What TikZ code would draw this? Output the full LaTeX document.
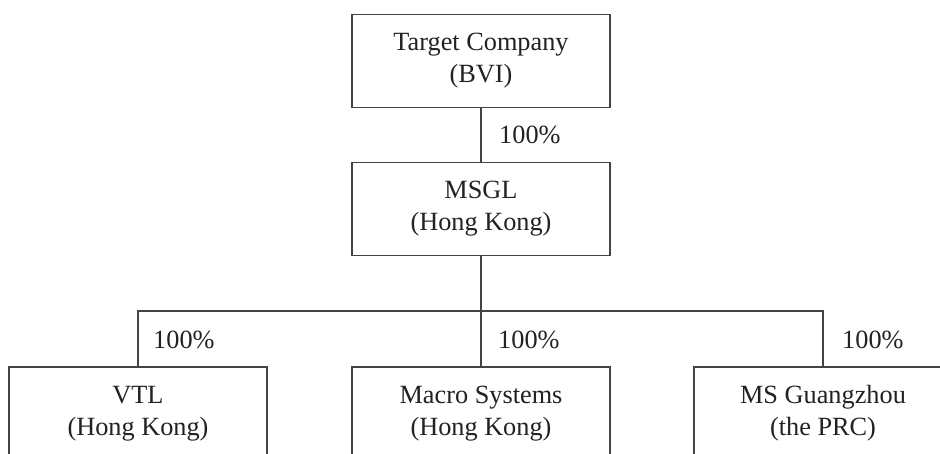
\documentclass[tikz,border=0pt]{standalone}
\usepackage{fontspec}
\setmainfont{Liberation Serif}
\definecolor{linecol}{HTML}{444444}
\definecolor{textcol}{HTML}{222222}
\begin{document}
\begin{tikzpicture}[x=1pt,y=-1pt,
  entity/.style={draw=linecol, line width=1.4pt, rectangle, minimum width=258pt, minimum height=93pt,
    inner sep=0pt, align=center, font=\fontsize{26.3}{32}\selectfont, text=textcol},
  pct/.style={anchor=west, inner sep=0pt, font=\fontsize{26.3}{32}\selectfont, text=textcol},
  conn/.style={draw=linecol, line width=1.4pt}]
\useasboundingbox (0,0) rectangle (940,453);
\clip (0,0) rectangle (940,453);
\fill[white] (0,0) rectangle (940,453);
\node[entity] (top) at (481,61) {Target Company\\(BVI)};
\node[entity] (msgl) at (481,209) {MSGL\\(Hong Kong)};
\node[entity] (vtl) at (138,413.5) {VTL\\(Hong Kong)};
\node[entity] (macro) at (481,413.5) {Macro Systems\\(Hong Kong)};
\node[entity] (msg) at (823,413.5) {MS Guangzhou\\(the PRC)};
\coordinate (bus) at (481,311);
\draw[conn] (top) -- (msgl);
\draw[conn] (msgl) -- (bus);
\draw[conn] (bus) -| (vtl.north);
\draw[conn] (bus) -| (msg.north);
\draw[conn] (bus) -- (macro.north);
\node[pct] (p0) at (499,135) {100\%};
\node[pct] (p1) at (153,340) {100\%};
\node[pct] (p2) at (498,340) {100\%};
\node[pct] (p3) at (842,340) {100\%};
\end{tikzpicture}
\end{document}
